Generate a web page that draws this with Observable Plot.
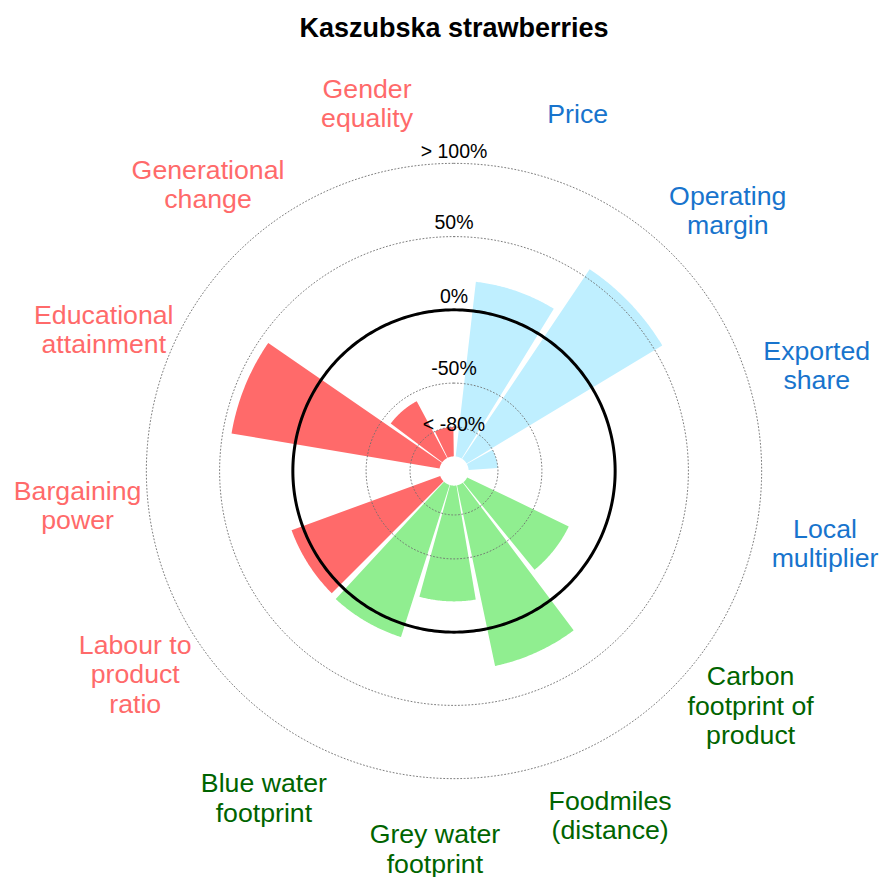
<!DOCTYPE html>
<html>
<head>
<meta charset="utf-8">
<script src="https://cdn.jsdelivr.net/npm/d3@7"></script>
<script src="https://cdn.jsdelivr.net/npm/@observablehq/plot@0.6"></script>
<style>
  body { margin: 0; background: #ffffff; }
  #chart svg { display: block; }
</style>
</head>
<body>
<div id="chart"></div>
<script>
// ---------------- data ----------------
const title = "Kaszubska strawberries";

const categories = [
  "Price", "Operating margin", "Exported share", "Local multiplier",
  "Carbon footprint of product", "Foodmiles (distance)", "Grey water footprint", "Blue water footprint",
  "Labour to product ratio", "Bargaining power", "Educational attainment", "Generational change", "Gender equality"
];

const categoryLabels = [
  "Price", "Operating\nmargin", "Exported\nshare", "Local\nmultiplier",
  "Carbon\nfootprint of\nproduct", "Foodmiles\n(distance)", "Grey water\nfootprint", "Blue water\nfootprint",
  "Labour to\nproduct\nratio", "Bargaining\npower", "Educational\nattainment", "Generational\nchange", "Gender\nequality"
];

const groups = [
  "economic", "economic", "economic", "economic",
  "environmental", "environmental", "environmental", "environmental",
  "social", "social", "social", "social", "social"
];

// percent change; null = no bar drawn
const values = [20, 56, -80, null, -23, 26, -21, 9, 8, null, 44, -56, -80];

const gridLevels = [-80, -50, 0, 50, 100];
const gridLabels = ["< -80%", "-50%", "0%", "50%", "> 100%"];

// ---------------- styles / layout ----------------
const W = 882, H = 877;
const pxPerUnit = 1.465;          // pixels per percentage point on the radius
const cx = 453.5, cy = 470.5;     // polar centre in pixels
const rOrigin = -110;             // value at the polar centre
const barBase = -100;             // bars start here (inner hole)
const clampLo = -80, clampHi = 100;
const halfWidth = 12.5;           // half angular width of a bar (deg)
const labelRadiusValue = 148;     // where category labels sit (value units)

const barColors = {economic: "#BFEFFF", environmental: "#90EE90", social: "#FF6A6A"};
const textColors = {economic: "#1874CD", environmental: "#006400", social: "#FF6A6A"};
const gridLabelDy = {"< -80%": -2, "-50%": -14, "0%": -13, "50%": -14, "> 100%": -12};

// angle scale (degrees clockwise from 12 o'clock)
let thetaOf;
try {
  const s = Plot.scale({x: {type: "point", domain: categories, range: [19.1, 346.7], padding: 0}});
  thetaOf = c => s.apply(c);
} catch (e) {
  const s = d3.scalePoint(categories, [19.1, 346.7]).padding(0);
  thetaOf = c => s(c);
}

const polar = (deg, v) => {
  const a = deg * Math.PI / 180, r = v - rOrigin;
  return {x: r * Math.sin(a), y: r * Math.cos(a)};
};

// bar sectors (derived from the data)
const sectorRows = [];
categories.forEach((c, i) => {
  const v = values[i];
  if (v == null) return;
  const top = Math.max(clampLo, Math.min(clampHi, v));
  const t0 = thetaOf(c) - halfWidth, t1 = thetaOf(c) + halfWidth;
  const n = 60;
  for (let k = 0; k <= n; k++) {
    const t = t0 + (t1 - t0) * k / n;
    sectorRows.push({cat: c, group: groups[i], ...polar(t, top)});
  }
  for (let k = n; k >= 0; k--) {
    const t = t0 + (t1 - t0) * k / n;
    sectorRows.push({cat: c, group: groups[i], ...polar(t, barBase)});
  }
});

// grid circles
const circleRows = [];
gridLevels.forEach(level => {
  for (let t = 0; t <= 360; t += 1) circleRows.push({level, ...polar(t, level)});
});

const labelRows = categories.map((c, i) => ({
  label: categoryLabels[i], group: groups[i], ...polar(thetaOf(c), labelRadiusValue)
}));

const gridLabelRows = gridLevels.map((level, i) => ({level, text: gridLabels[i], ...polar(0, level)}));

const xDomain = [-cx / pxPerUnit, (W - cx) / pxPerUnit];
const yDomain = [-(H - cy) / pxPerUnit, cy / pxPerUnit];

const chart = Plot.plot({
  width: W,
  height: H,
  margin: 0,
  style: {fontFamily: "'Liberation Sans', Arial, Helvetica, sans-serif", background: "#ffffff"},
  x: {domain: xDomain, range: [0, W], axis: null},
  y: {domain: yDomain, range: [H, 0], axis: null},
  marks: [
    ...Object.keys(barColors).map(g =>
      Plot.line(sectorRows.filter(d => d.group === g), {
        x: "x", y: "y", z: "cat", curve: "linear-closed",
        fill: barColors[g], stroke: "none"
      })
    ),
    Plot.line(circleRows.filter(d => d.level !== 0), {
      x: "x", y: "y", z: "level",
      stroke: "#6e6e6e", strokeWidth: 0.9, strokeDasharray: "1,2.4"
    }),
    Plot.line(circleRows.filter(d => d.level === 0), {
      x: "x", y: "y", z: "level",
      stroke: "#000000", strokeWidth: 3
    }),
    ...gridLabelRows.map(row =>
      Plot.text([row], {
        x: "x", y: "y", text: "text",
        dy: gridLabelDy[row.text],
        fill: "#000000", fontSize: 19.5, textAnchor: "middle", lineAnchor: "middle"
      })
    ),
    ...Object.keys(textColors).map(g =>
      Plot.text(labelRows.filter(d => d.group === g), {
        x: "x", y: "y", text: "label",
        fill: textColors[g], fontSize: 26.7, lineHeight: 1.1,
        textAnchor: "middle", lineAnchor: "middle"
      })
    ),
    Plot.text([title], {
      x: () => 0, frameAnchor: "top", dy: 28, text: d => d,
      fontSize: 27, fontWeight: "bold", fill: "#000000",
      textAnchor: "middle", lineAnchor: "middle"
    })
  ]
});

document.getElementById("chart").append(chart);
</script>
</body>
</html>
